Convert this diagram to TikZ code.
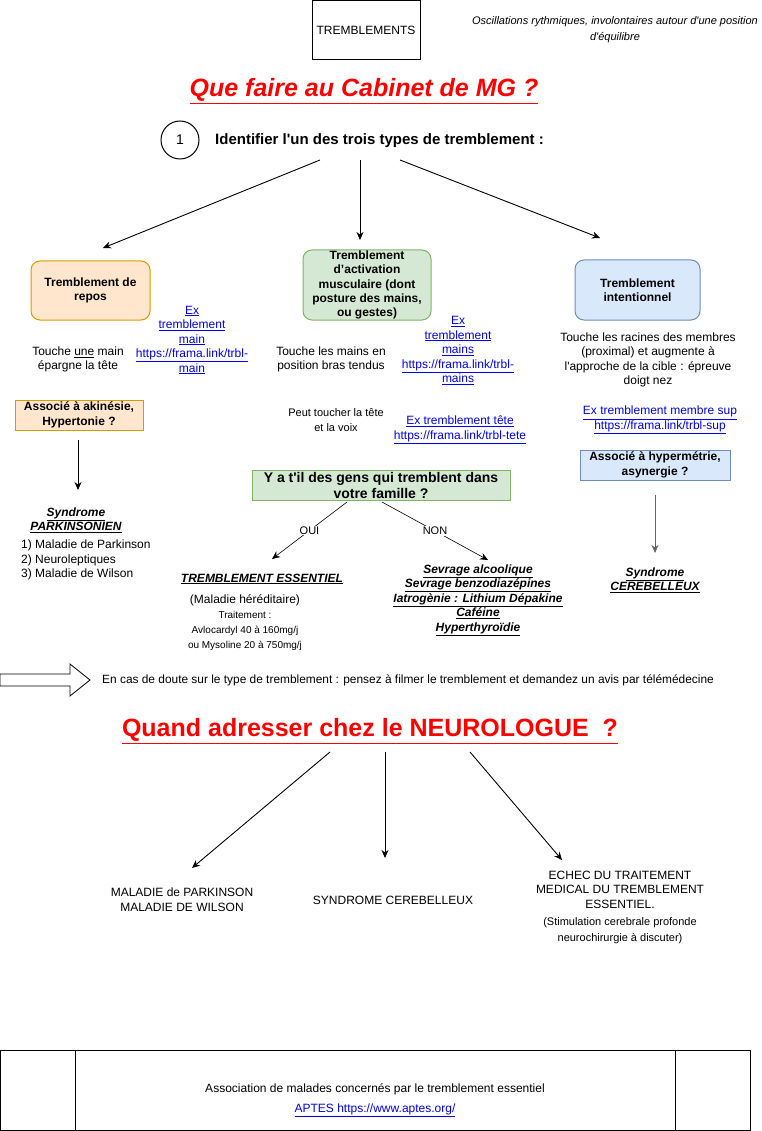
\documentclass[tikz,border=0pt]{standalone}
\usepackage{fontspec}
\setmainfont{Liberation Sans}
\usepackage{xcolor}
\usetikzlibrary{arrows.meta}

\definecolor{reposfill}{HTML}{FFE6CC}
\definecolor{reposline}{HTML}{D79B00}
\definecolor{activfill}{HTML}{D5E8D4}
\definecolor{activline}{HTML}{82B366}
\definecolor{intentfill}{HTML}{DAE8FC}
\definecolor{intentline}{HTML}{6C8EBF}
\definecolor{linkblue}{HTML}{0000EE}
\definecolor{titlered}{HTML}{FF0000}

\newcommand{\ul}[1]{\underline{#1}}
\newcommand{\q}{\textquotesingle}

\tikzset{
  txt/.style={font=\fontsize{12}{14.5}\selectfont, align=center, inner sep=1pt},
  small/.style={font=\fontsize{11}{16}\selectfont, align=center, inner sep=1pt},
  lnk/.style={txt, text=linkblue},
  btxt/.style={txt, font=\fontsize{12}{14.5}\selectfont\bfseries\itshape},
  box/.style={draw, line width=1pt, align=center, inner sep=0pt,
    font=\fontsize{12}{14.5}\selectfont\bfseries},
  arr/.style={-{Stealth[length=8pt, width=7pt]}, line width=0.9pt},
  thinarr/.style={-{Stealth[length=8pt, width=7pt]}, line width=0.6pt}
}

\begin{document}
\begin{tikzpicture}[x=1pt, y=-1pt]
\useasboundingbox (0,0) rectangle (761,1131);

% header
\node[draw, line width=1pt, txt, minimum width=108, minimum height=59] (tremb) at (366,30.5) {TREMBLEMENTS};
\node[txt, font=\fontsize{11}{16}\selectfont\itshape] (defin) at (615,30) {Oscillations rythmiques, involontaires autour d\q une position\\d\q équilibre};

\node[text=titlered, font=\fontsize{25}{30}\selectfont\bfseries\itshape] (mg) at (364,91) {\ul{Que faire au Cabinet de MG ?}};

\node[draw, circle, line width=1pt, minimum size=38, txt, font=\fontsize{14}{16}\selectfont] (un) at (180,140) {1};
\node[txt, anchor=west, font=\fontsize{15}{17}\selectfont\bfseries] (ident) at (214,141) {Identifier l\q un des trois types de tremblement :};

% three types
\node[box, fill=reposfill, draw=reposline, rounded corners=9pt, minimum width=119, minimum height=59] (repos) at (90.5,290.5) {Tremblement de\\repos};
\node[box, fill=activfill, draw=activline, rounded corners=9pt, minimum width=128, minimum height=70, font=\fontsize{12}{14.2}\selectfont\bfseries] (activ) at (367,285) {Tremblement\\d’activation\\musculaire (dont\\posture des mains,\\ou gestes)};
\node[box, fill=intentfill, draw=intentline, rounded corners=9pt, minimum width=125, minimum height=60] (intent) at (637.5,290) {Tremblement\\intentionnel};

\draw[arr] ([shift={(106,19)}]ident.west) -- ([shift={(12.5,-42.5)}]repos.center);
\draw[arr] ([shift={(146,19)}]ident.west) -- ([shift={(-7,-45)}]activ.center);
\draw[arr] ([shift={(186,19)}]ident.west) -- ([shift={(-37.5,-52)}]intent.center);

% repos
\node[txt] (touche1) at (78,359.5) {Touche \ul{une} main\\épargne la tête};
\node[lnk] (lkmain) at (192,340) {\ul{Ex}\\\ul{tremblement}\\\ul{main}\\\ul{https://frama.link/trbl-}\\\ul{main}};
\node[box, fill=reposfill, draw=reposline, minimum width=128, minimum height=30] (akin) at (79,415) {Associé à akinésie,\\Hypertonie ?};
\node[btxt] (parkin) at (76,520) {\ul{Syndrome}\\\ul{PARKINSONIEN}};
\node[txt, align=left, anchor=west] (parklist) at (20,560) {1) Maladie de Parkinson\\2) Neuroleptiques\\3) Maladie de Wilson};
\draw[arr] ([shift={(-1,25)}]akin.center) -- ([shift={(2,-30)}]parkin.center);

% activation
\node[txt] (touche2) at (331,359.5) {Touche les mains en\\position bras tendus};
\node[lnk] (lkmains) at (458,350.5) {\ul{Ex}\\\ul{tremblement}\\\ul{mains}\\\ul{https://frama.link/trbl-}\\\ul{mains}};
\node[txt, font=\fontsize{11}{14.5}\selectfont] (tete) at (336,420) {Peut toucher la tête\\et la voix};
\node[lnk] (lktete) at (460,430) {\ul{Ex tremblement tête}\\\ul{https://frama.link/trbl-tete}};

\node[box, fill=activfill, draw=activline, minimum width=258, minimum height=30, font=\fontsize{14}{16}\selectfont\bfseries] (famille) at (381,485) {Y a t\q il des gens qui tremblent dans\\votre famille ?};

\node[btxt] (tess) at (262,579) {\ul{TREMBLEMENT ESSENTIEL}};
\node[txt] (hered) at (245,600) {(Maladie héréditaire)};
\node[txt, font=\fontsize{10}{15}\selectfont] (trait) at (245,631) {Traitement :\\Avlocardyl 40 à 160mg/j\\ou Mysoline 20 à 750mg/j};
\node[btxt] (autres) at (478,600) {\ul{Sevrage alcoolique}\\\ul{Sevrage benzodiazépines}\\\ul{Iatrogènie : Lithium Dépakine}\\\ul{Caféine}\\\ul{Hyperthyroïdie}};

\draw[thinarr] ([shift={(-34,17)}]famille.center) -- node[fill=white, txt, font=\fontsize{11}{13}\selectfont] {OUI} ([shift={(10,-20)}]tess.center);
\draw[thinarr] ([shift={(1,17)}]famille.center) -- node[fill=white, txt, font=\fontsize{11}{13}\selectfont] {NON} ([shift={(10,-40)}]autres.center);

% intentionnel
\node[txt] (racines) at (648,360) {Touche les racines des membres\\(proximal) et augmente à\\l\q approche de la cible : épreuve\\doigt nez};
\node[lnk] (lksup) at (660,420) {\ul{Ex tremblement membre sup}\\\ul{https://frama.link/trbl-sup}};
\node[box, fill=intentfill, draw=intentline, minimum width=150, minimum height=30] (hyper) at (655,465) {Associé à hypermétrie,\\asynergie ?};
\node[btxt] (cereb) at (655,580) {\ul{Syndrome}\\\ul{CEREBELLEUX}};
\draw[arr, draw=black!60, fill=black!60] ([shift={(0,30)}]hyper.center) -- ([shift={(0,-27)}]cereb.center);

% doute
\draw[line width=0.8pt] (0,674) -- (70,674) -- (70,664) -- (90,680) -- (70,696) -- (70,686) -- (0,686) -- cycle;
\node[txt, anchor=west, font=\fontsize{11.9}{13}\selectfont] (doute) at (101,680) {En cas de doute sur le type de tremblement : pensez à filmer le tremblement et demandez un avis par télémédecine};

% neurologue
\node[text=titlered, font=\fontsize{25}{30}\selectfont\bfseries] (neuro) at (370,731) {\ul{Quand adresser chez le NEUROLOGUE~ ?}};

\node[txt] (mp) at (182,899.5) {MALADIE de PARKINSON\\MALADIE DE WILSON};
\node[txt] (cer2) at (393,900) {SYNDROME CEREBELLEUX};
\node[txt] (echec) at (620,889.5) {ECHEC DU TRAITEMENT\\MEDICAL DU TREMBLEMENT\\ESSENTIEL.};
\node[small] (stim) at (620,931) {(Stimulation cerebrale profonde\\neurochirurgie à discuter)};

\draw[arr] ([shift={(-40,21)}]neuro.center) -- ([shift={(10,-31.5)}]mp.center);
\draw[arr] ([shift={(15,21)}]neuro.center) -- ([shift={(-8,-42)}]cer2.center);
\draw[arr] ([shift={(100,21)}]neuro.center) -- ([shift={(-58,-29.5)}]echec.center);

% footer
\draw[line width=1pt] (0,1050) rectangle (750,1130);
\draw[line width=1pt] (75,1050) -- (75,1130);
\draw[line width=1pt] (675,1050) -- (675,1130);
\node[txt] (assoc) at (375,1089) {Association de malades concernés par le tremblement essentiel};
\node[lnk] (aptes) at (375,1110) {\ul{APTES https://www.aptes.org/}};

\end{tikzpicture}
\end{document}
